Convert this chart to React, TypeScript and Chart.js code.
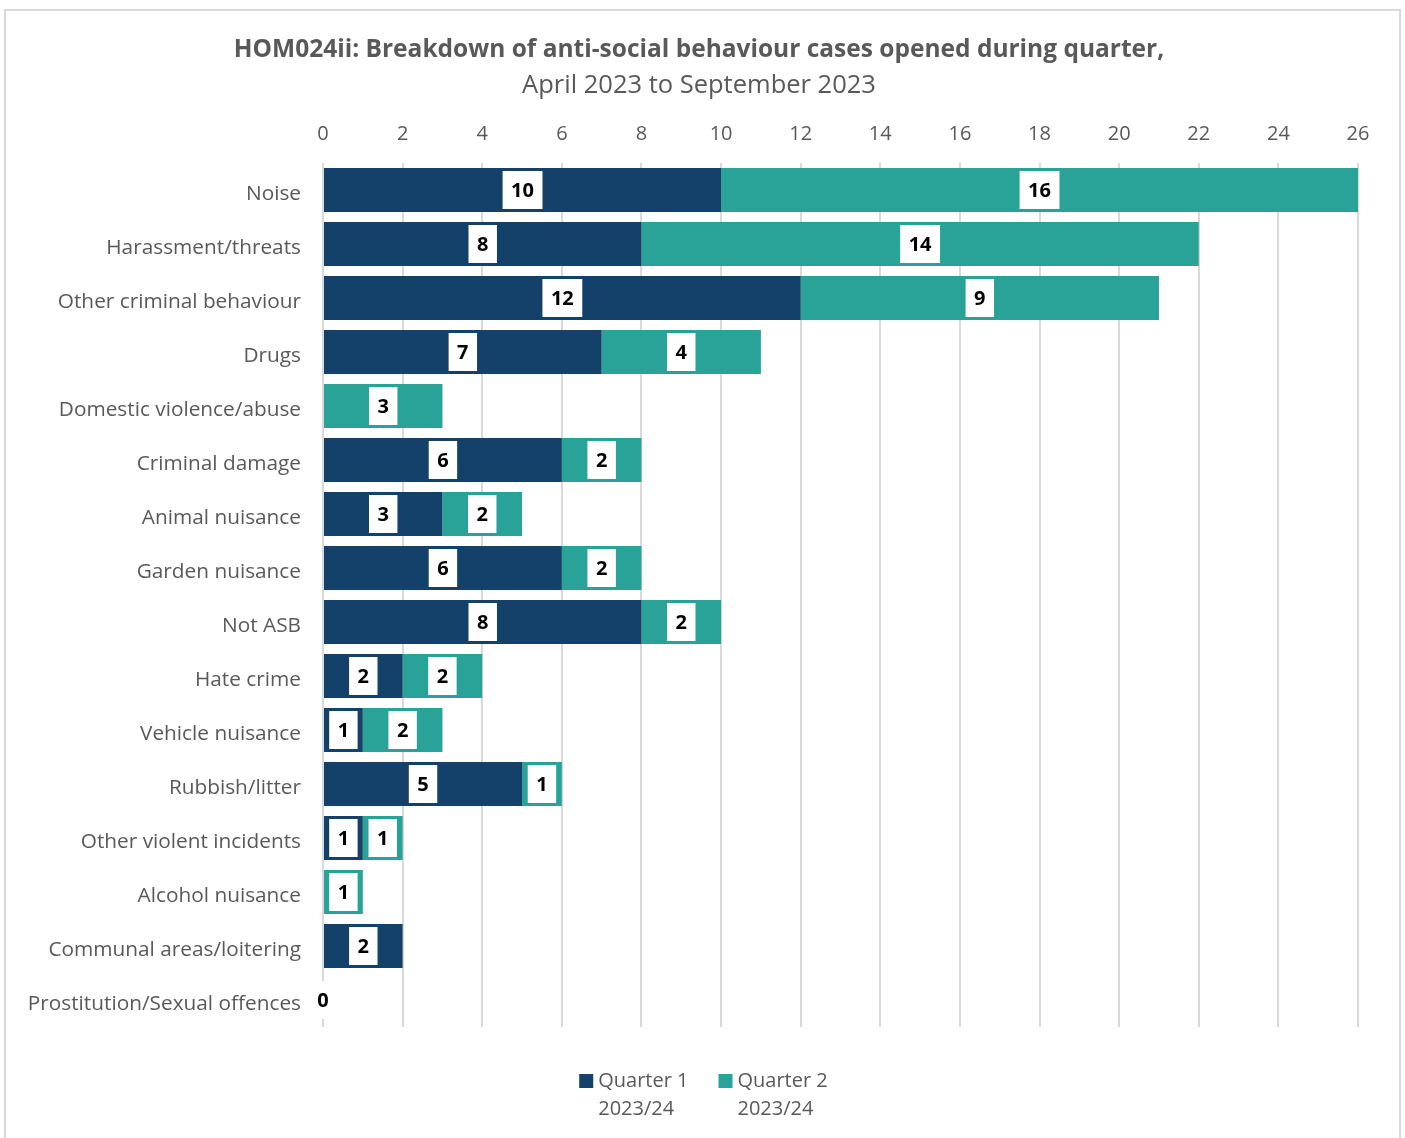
import React, { useEffect, useRef } from "react";
import { Chart, registerables } from "chart.js";

Chart.register(...registerables);

const categories = [
  "Noise",
  "Harassment/threats",
  "Other criminal behaviour",
  "Drugs",
  "Domestic violence/abuse",
  "Criminal damage",
  "Animal nuisance",
  "Garden nuisance",
  "Not ASB",
  "Hate crime",
  "Vehicle nuisance",
  "Rubbish/litter",
  "Other violent incidents",
  "Alcohol nuisance",
  "Communal areas/loitering",
  "Prostitution/Sexual offences",
];
const q1Values = [10, 8, 12, 7, 0, 6, 3, 6, 8, 2, 1, 5, 1, 0, 2, 0];
const q2Values = [16, 14, 9, 4, 3, 2, 2, 2, 2, 2, 2, 1, 1, 1, 0, 0];
const seriesLabels = [
  ["Quarter 1", "2023/24"],
  ["Quarter 2", "2023/24"],
];
const titleText = "HOM024ii: Breakdown of anti-social behaviour cases opened during quarter,";
const subtitleText = "April 2023 to September 2023";
const xMin = 0;
const xMax = 26;
const xStep = 2;

const FONT = "'Open Sans', 'Noto Sans', sans-serif";
const GREY = "#595959";
const Q1_COLOR = "#144169";
const Q2_COLOR = "#29a397";

const borderPlugin = {
  id: "outerBorder",
  beforeDraw(chart: any) {
    const { ctx, width, height } = chart;
    ctx.save();
    ctx.fillStyle = "#ffffff";
    ctx.fillRect(0, 0, width, height);
    ctx.strokeStyle = "#d9d9d9";
    ctx.lineWidth = 2;
    ctx.strokeRect(5, 10, 1395, height + 20);
    ctx.restore();
  },
};

const boxLabelPlugin = {
  id: "boxLabels",
  afterDatasetsDraw(chart: any) {
    const { ctx } = chart;
    ctx.save();
    ctx.font = `bold 20px ${FONT}`;
    ctx.textAlign = "center";
    ctx.textBaseline = "middle";
    chart.data.datasets.forEach((ds: any, di: number) => {
      const meta = chart.getDatasetMeta(di);
      meta.data.forEach((el: any, i: number) => {
        const v = ds.data[i];
        const total = chart.data.datasets.reduce((s: number, d: any) => s + d.data[i], 0);
        const show = v > 0 || (di === 0 && total === 0);
        if (!show) return;
        const cx = (el.x + el.base) / 2;
        const cy = el.y;
        const txt = String(v);
        const tw = ctx.measureText(txt).width;
        const bw = tw + 17;
        const bh = 38;
        ctx.fillStyle = "#ffffff";
        ctx.fillRect(cx - bw / 2, cy - bh / 2, bw, bh);
        ctx.fillStyle = "#000000";
        ctx.fillText(txt, cx, cy + 1);
      });
    });
    ctx.restore();
  },
};

const legendPlugin = {
  id: "customLegend",
  afterDraw(chart: any) {
    const { ctx, width } = chart;
    const datasets = chart.data.datasets;
    ctx.save();
    ctx.font = `20px ${FONT}`;
    ctx.textBaseline = "middle";
    ctx.textAlign = "left";
    const box = 14;
    const gapBoxText = 5;
    const gapItems = 30;
    const widths = datasets.map((ds: any) => {
      const lines: string[] = Array.isArray(ds.label) ? ds.label : [ds.label];
      return box + gapBoxText + Math.max(...lines.map((l) => ctx.measureText(l).width));
    });
    const total = widths.reduce((a: number, b: number) => a + b, 0) + gapItems * (datasets.length - 1);
    let x = width / 2 - total / 2 + 1;
    const y1 = chart.chartArea.bottom + 54;
    const lineH = 28;
    datasets.forEach((ds: any, i: number) => {
      const lines: string[] = Array.isArray(ds.label) ? ds.label : [ds.label];
      ctx.fillStyle = ds.backgroundColor;
      ctx.fillRect(x, y1 - box / 2, box, box);
      ctx.fillStyle = GREY;
      lines.forEach((l, li) => ctx.fillText(l, x + box + gapBoxText, y1 + li * lineH));
      x += widths[i] + gapItems;
    });
    ctx.restore();
  },
};

export default function App() {
  const ref = useRef<HTMLCanvasElement | null>(null);
  useEffect(() => {
    document.body.style.margin = "0";
    if (!ref.current) return;
    const chart = new Chart(ref.current, {
      type: "bar",
      data: {
        labels: categories,
        datasets: [
          {
            label: seriesLabels[0] as any,
            data: q1Values,
            backgroundColor: Q1_COLOR,
            borderWidth: 0,
          },
          {
            label: seriesLabels[1] as any,
            data: q2Values,
            backgroundColor: Q2_COLOR,
            borderWidth: 0,
          },
        ],
      },
      options: {
        indexAxis: "y",
        responsive: false,
        animation: false,
        devicePixelRatio: 1,
        layout: { padding: { left: 40, right: 47, top: 0, bottom: 111 } },
        datasets: {
          bar: { categoryPercentage: 1, barPercentage: 0.815 },
        },
        scales: {
          x: {
            position: "top",
            stacked: true,
            min: xMin,
            max: xMax,
            ticks: {
              stepSize: xStep,
              color: GREY,
              font: { family: FONT, size: 20 },
              padding: 17,
              maxRotation: 0,
            },
            grid: { color: "#d9d9d9", lineWidth: 2, drawTicks: false },
            border: { display: false },
            afterFit(scale: any) {
              scale.height = 61.7;
            },
          },
          y: {
            stacked: true,
            ticks: {
              color: GREY,
              font: { family: FONT, size: 20.8 },
              padding: 22,
              labelOffset: 4,
            },
            grid: { display: false, drawTicks: false },
            border: { display: false },
            afterFit(scale: any) {
              scale.width = 283;
              scale._computeLabelArea = () => undefined;
            },
          },
        },
        plugins: {
          title: {
            display: true,
            text: titleText,
            color: GREY,
            font: { family: FONT, size: 24.5, weight: "bold" },
            padding: { top: 35.3, bottom: 6 },
          },
          subtitle: {
            display: true,
            text: subtitleText,
            color: GREY,
            font: { family: FONT, size: 25.5, weight: "normal" },
            padding: { top: 0, bottom: 0 },
          },
          legend: { display: false },
          tooltip: { enabled: false },
        },
      },
      plugins: [borderPlugin, boxLabelPlugin, legendPlugin],
    } as any);
    return () => chart.destroy();
  }, []);
  return (
    <div style={{ width: 1405, height: 1138 }}>
      <canvas ref={ref} width={1405} height={1138} style={{ display: "block" }} />
    </div>
  );
}
